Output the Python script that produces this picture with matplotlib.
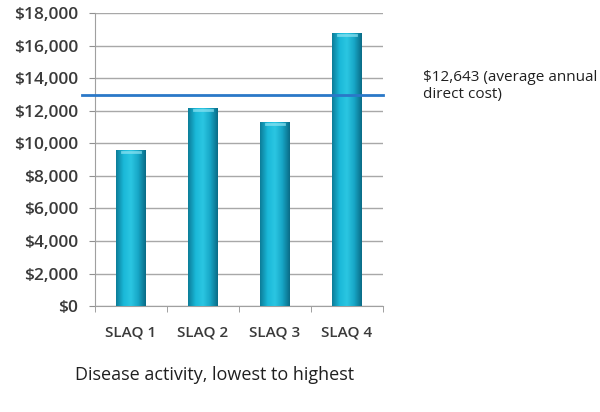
import numpy as np
import matplotlib.pyplot as plt
from matplotlib.colors import LinearSegmentedColormap

categories = ['SLAQ 1', 'SLAQ 2', 'SLAQ 3', 'SLAQ 4']
costs = [9600, 12150, 11300, 16800]
avg_line = 12950
avg_label = '$12,643 (average annual\ndirect cost)'
yticks = list(range(0, 18001, 2000))

plt.rcParams['font.family'] = ['Open Sans', 'DejaVu Sans']

fig = plt.figure(figsize=(6, 4.12), dpi=100)
ax = fig.add_axes([0.158, 0.257, 0.48, 0.711])

x = np.arange(len(categories))
bars = ax.bar(x, costs, width=0.41, color='#19B0D0', zorder=2)

# cylinder-ish shading on each bar
cmap = LinearSegmentedColormap.from_list('cyl', ['#0C7D99', '#1AB8D8', '#2BC6E2', '#17A6C6', '#0A6C87'])
grad = np.linspace(0, 1, 64).reshape(1, -1)
for b in bars:
    bx, bw, bh = b.get_x(), b.get_width(), b.get_height()
    im = ax.imshow(grad, cmap=cmap, aspect='auto', extent=[bx, bx + bw, 0, bh], zorder=3)
    im.set_clip_path(b)
    ax.plot([bx + bw * 0.2, bx + bw * 0.8], [bh - 120, bh - 120], color='#8FE3F2', lw=2, alpha=0.7, zorder=4)

ax.set_xlim(-0.5, 3.5)
ax.set_ylim(0, 18000)
ax.set_yticks(yticks)
ax.set_yticklabels(['${:,}'.format(v) for v in yticks], fontsize=12.5, color='#3A3A3A', fontweight='semibold')
ax.set_xticks(x)
ax.set_xticklabels(categories, fontsize=11, color='#3A3A3A', fontweight='semibold')
ax.tick_params(axis='x', length=0, pad=14)
ax.tick_params(axis='y', length=4, color='#909090', pad=8)
ax.set_xticks(np.arange(-0.5, 4, 1), minor=True)
ax.tick_params(axis='x', which='minor', length=4, color='#909090')

ax.grid(axis='y', color='#A8A8A8', lw=1, zorder=0)
for s in ['top', 'right']:
    ax.spines[s].set_visible(False)
for s in ['left', 'bottom']:
    ax.spines[s].set_color('#A0A0A0')

ax.plot([-0.68, 3.5], [avg_line, avg_line], color='#2A78C8', lw=2, zorder=5, clip_on=False)
ax.text(1.0 + 40 / 288, (avg_line + 600) / 18000, avg_label, transform=ax.transAxes,
        fontsize=11, color='#202020', va='center', ha='left')

fig.text(0.358, 0.09, 'Disease activity, lowest to highest', fontsize=13, color='#202020', ha='center', va='center')

fig.savefig('out.png', dpi=100)
